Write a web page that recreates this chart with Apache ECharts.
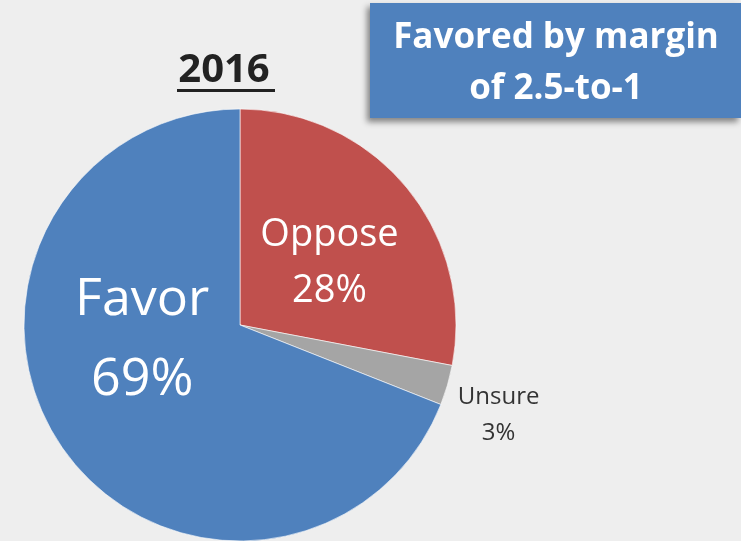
<!DOCTYPE html>
<html>
<head>
<meta charset="utf-8">
<script src="https://cdn.jsdelivr.net/npm/echarts@6/dist/echarts.min.js"></script>
<style>
  html, body { margin: 0; padding: 0; background: #eeeeee; }
  #main { width: 741px; height: 541px; }
</style>
</head>
<body>
<div id="main"></div>
<script>
// data
const categories = ["Oppose", "Unsure", "Favor"];
const values = [28, 3, 69];
const colors = ["#c0504d", "#a5a5a5", "#4f81bd"];
const yearTitle = "2016";
const noteLines = ["Favored by margin", "of 2.5-to-1"];

const font = "'Open Sans', 'Noto Sans', sans-serif";

// label look per slice
const labelStyles = {
  Oppose: { color: "#fff", fontSize: 38, lineHeight: 56, offset: [4, 9] },
  Unsure: { color: "#333", fontSize: 24, lineHeight: 36, offset: [152, 59] },
  Favor: { color: "#fff", fontSize: 52, lineHeight: 80, offset: [-6, -47] }
};

const myChart = echarts.init(document.getElementById("main"));

const pieData = categories.map((name, i) => {
  const ls = labelStyles[name];
  return {
    name: name,
    value: values[i],
    itemStyle: { color: colors[i] },
    label: {
      color: ls.color,
      fontSize: ls.fontSize,
      lineHeight: ls.lineHeight,
      offset: ls.offset
    }
  };
});

let options = {
  backgroundColor: "#eeeeee",
  animation: false,
  title: {
    text: yearTitle,
    left: 219,
    top: 46,
    textAlign: "center",
    textStyle: {
      fontFamily: font,
      fontSize: 40,
      fontWeight: "bold",
      color: "#222"
    }
  },
  graphic: [
    // underline of the year
    {
      type: "rect",
      shape: { x: 177, y: 89, width: 98, height: 3 },
      style: { fill: "#222" }
    },
    // note box
    {
      type: "rect",
      shape: { x: 370, y: 3, width: 371, height: 115 },
      style: {
        fill: "#4f81bd",
        shadowBlur: 6,
        shadowOffsetX: -3,
        shadowOffsetY: 4,
        shadowColor: "rgba(0,0,0,0.45)"
      }
    },
    {
      type: "text",
      x: 556,
      y: 64,
      style: {
        text: noteLines.join("\n"),
        fontFamily: font,
        fontSize: 35,
        fontWeight: "bold",
        lineHeight: 51,
        fill: "#fff",
        align: "center",
        verticalAlign: "middle"
      }
    }
  ],
  series: [
    {
      type: "pie",
      center: [240, 325],
      radius: 216,
      startAngle: 90,
      clockwise: true,
      silent: true,
      itemStyle: { borderColor: "#ffffff", borderWidth: 0.6 },
      label: {
        show: true,
        position: "inside",
        formatter: "{b}\n{d}%",
        fontFamily: font,
        align: "center"
      },
      labelLine: { show: false },
      data: pieData
    }
  ]
};

myChart.setOption(options);
</script>
</body>
</html>
